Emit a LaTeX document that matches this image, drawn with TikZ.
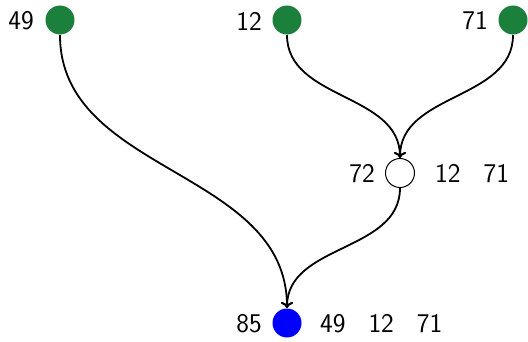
\documentclass[tikz,border=0pt]{standalone}
\usepackage{tikz}
\usetikzlibrary{arrows.meta}
\definecolor{leafgreen}{RGB}{26,128,60}
\begin{document}
\begin{tikzpicture}[x=1pt,y=-1pt,
  font=\sffamily\fontsize{27}{32}\selectfont,
  vtx/.style={circle,minimum size=29pt,inner sep=0pt,line width=1pt},
  leaf/.style={vtx,fill=leafgreen},
  inner/.style={vtx,draw=black,fill=white},
  root/.style={vtx,fill=blue},
  lbl/.style={inner sep=0pt,anchor=east},
  sets/.style={inner sep=0pt,anchor=west},
  link/.style={-{To[length=6pt,width=12pt]},line width=1.8pt,out=-90,in=90}]
\useasboundingbox (0,0) rectangle (528,342);
\node[leaf] (a) at (60,20) {};
\node[leaf] (b) at (287,20) {};
\node[leaf] (c) at (513,20) {};
\node[inner] (m) at (400,173) {};
\node[root] (r) at (287,323) {};
\node[lbl] (la) at (34,21) {49};
\node[lbl] (lb) at (262,21) {12};
\node[lbl] (lc) at (488,21) {71};
\node[lbl] (lm) at (375,174) {72};
\node[lbl] (lr) at (262,324) {85};
\node[sets] (sm) at (435,174) {12\hspace{23pt}71};
\node[sets] (sr) at (320,324) {49\hspace{23pt}12\hspace{23pt}71};
\draw[link] (a) to (r);
\draw[link] (b) to (m);
\draw[link] (c) to (m);
\draw[link] (m) to (r);
\end{tikzpicture}
\end{document}
